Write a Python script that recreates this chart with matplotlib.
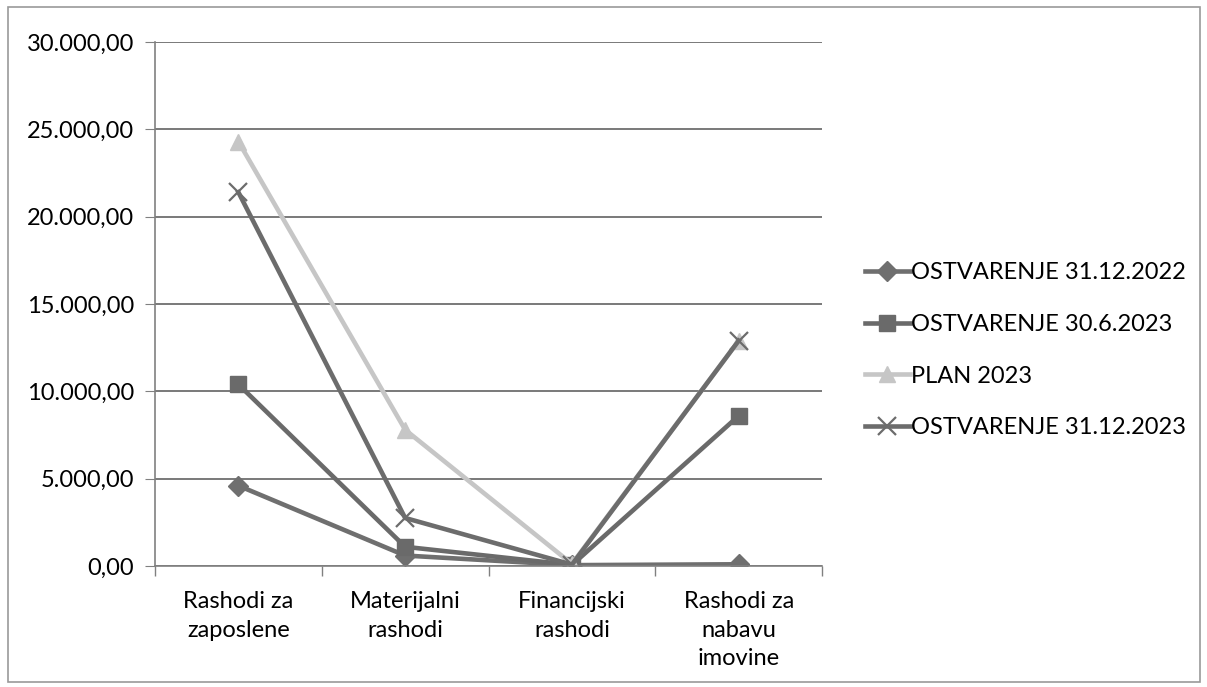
import matplotlib
matplotlib.use("Agg")
import matplotlib.pyplot as plt
from matplotlib.patches import Rectangle
from matplotlib.ticker import FuncFormatter, FixedLocator

plt.rcParams['font.family'] = ['Lato', 'DejaVu Sans']

# Data
categories = ["Rashodi za\nzaposlene", "Materijalni\nrashodi", "Financijski\nrashodi",
              "Rashodi za\nnabavu\nimovine"]
ostv_2022 = [4600, 600, 50, 100]
ostv_06_2023 = [10400, 1100, 60, 8600]
plan_2023 = [24300, 7800, 120, 12900]
ostv_12_2023 = [21400, 2750, 80, 12900]

series = [
    ("OSTVARENJE 31.12.2022", ostv_2022, "#6f6f6f", "D", 10),
    ("OSTVARENJE 30.6.2023", ostv_06_2023, "#6a6a6a", "s", 12),
    ("PLAN 2023", plan_2023, "#c6c6c6", "^", 12),
    ("OSTVARENJE 31.12.2023", ostv_12_2023, "#6c6c6c", "x", 13),
]

fig = plt.figure(figsize=(12.07, 6.87), dpi=100)
ax = fig.add_axes([0.1284, 0.1761, 0.5527, 0.7628])

x = list(range(len(categories)))
for label, vals, col, mk, ms in series:
    ax.plot(x, vals, color=col, linewidth=3.3, marker=mk, markersize=ms,
            markeredgewidth=1.6 if mk == "x" else 1, markerfacecolor=col,
            markeredgecolor=col, label=label)

ax.set_xlim(-0.5, 3.5)
ax.set_ylim(0, 30000)
ax.set_yticks(range(0, 30001, 5000))
ax.yaxis.set_major_formatter(FuncFormatter(
    lambda v, p: f"{v:,.2f}".replace(",", "X").replace(".", ",").replace("X", ".")))
ax.set_xticks(x)
ax.set_xticklabels(categories, fontsize=17, linespacing=1.45)
ax.tick_params(axis="x", which="major", length=0, pad=18)
ax.xaxis.set_minor_locator(FixedLocator([-0.5, 0.5, 1.5, 2.5, 3.5]))
ax.tick_params(axis="x", which="minor", length=7, color="#808080", width=1)
ax.tick_params(axis="y", length=7, color="#808080", labelsize=17, pad=8)
ax.grid(axis="y", color="#6e6e6e", linewidth=1.3)
ax.set_axisbelow(True)
for s in ["top", "right"]:
    ax.spines[s].set_visible(False)
for s in ["left", "bottom"]:
    ax.spines[s].set_color("#808080")
    ax.spines[s].set_linewidth(1.2)

leg = fig.legend(loc="center left", bbox_to_anchor=(0.699, 0.49), frameon=False,
                 fontsize=17, handlelength=1.9, handletextpad=0.05, labelspacing=1.3)

fig.patches.append(Rectangle((0.007, 0.008), 0.987, 0.982, transform=fig.transFigure,
                             fill=False, edgecolor="#9a9a9a", linewidth=1.2))

fig.savefig("out.png", dpi=100)
